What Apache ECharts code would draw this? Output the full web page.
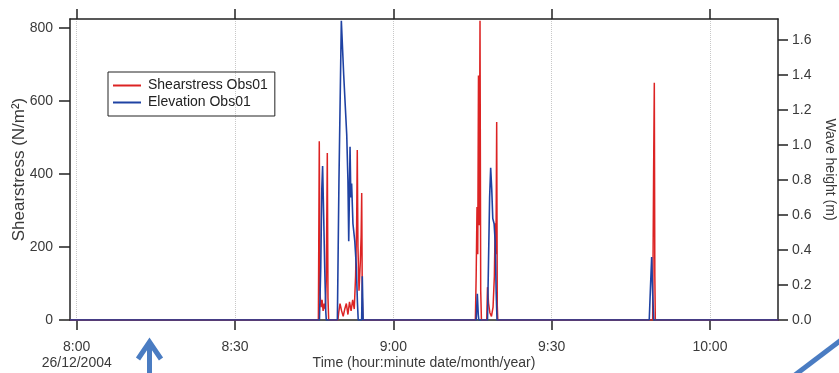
<!DOCTYPE html>
<html><head><meta charset="utf-8">
<script src="https://cdn.jsdelivr.net/npm/echarts@6/dist/echarts.min.js"></script>
<style>html,body{margin:0;padding:0;background:#fff}#c{width:839px;height:373px}</style>
</head><body><div id="c"></div>
<script>
// Time axis: minutes after 08:00 on 26/12/2004
const xTicks = [0, 30, 60, 90, 120];
const xTickLabels = ['8:00\n26/12/2004', '8:30', '9:00', '9:30', '10:00'];
const leftTicks = [0, 200, 400, 600, 800];
const rightTicks = [0, 0.2, 0.4, 0.6, 0.8, 1.0, 1.2, 1.4, 1.6];

// Shearstress Obs01 (N/m²)
const shearTime = [-1.3, 45.8, 45.97, 46.12, 46.3, 46.5, 46.7, 46.9, 47.1, 47.3, 47.49, 47.62, 47.75,
  49.5, 49.65, 49.9, 50.2, 50.5, 50.8, 51.1, 51.4, 51.7, 52.0, 52.3, 52.6, 52.85, 53.05, 53.17, 53.3, 53.5, 53.75, 53.9, 54.01, 54.12, 54.25,
  75.55, 75.7, 75.86, 76.0, 76.14, 76.28, 76.43, 76.56, 76.7,
  77.7, 77.85, 78.05, 78.3, 78.6, 78.9, 79.15, 79.3, 79.45, 79.59, 79.7, 79.8,
  109.15, 109.32, 109.46, 109.56, 109.65, 133];
const shearValue = [0, 0, 490, 70, 35, 55, 25, 45, 30, 110, 458, 60, 0,
  0, 20, 45, 25, 10, 30, 45, 15, 50, 25, 55, 30, 120, 260, 466, 200, 80, 160, 230, 348, 60, 0,
  0, 120, 310, 180, 670, 260, 820, 80, 0,
  0, 90, 45, 20, 10, 35, 120, 265, 180, 543, 40, 0,
  0, 390, 650, 120, 0, 0];

// Elevation Obs01 (wave height, m)
const elevTime = [-1.3, 46.0, 46.25, 46.45, 46.6, 46.8, 47.0, 47.2, 47.3,
  49.4, 49.7, 50.15, 50.6, 51.17, 51.4, 51.55, 51.65, 51.8, 51.95, 52.1, 52.35, 52.7, 53.0, 53.2, 53.35, 54.0, 54.12, 54.28,
  75.7, 75.92, 76.1, 76.2,
  77.85, 78.05, 78.25, 78.45, 78.65, 78.85, 79.1, 79.3, 79.5, 79.65,
  108.5, 108.75, 108.96, 109.15, 109.35, 133];
const elevValue = [0, 0, 0.3, 0.75, 0.88, 0.6, 0.3, 0.05, 0,
  0, 0.8, 1.71, 1.4, 1.06, 0.8, 0.45, 0.65, 0.99, 0.7, 0.78, 0.55, 0.45, 0.3, 0.1, 0, 0, 0.25, 0,
  0, 0.15, 0.03, 0,
  0, 0.35, 0.7, 0.87, 0.75, 0.58, 0.55, 0.45, 0.15, 0,
  0, 0.2, 0.36, 0.15, 0, 0];

const shearData = shearTime.map((t, i) => [t, shearValue[i]]);
const elevData = elevTime.map((t, i) => [t, elevValue[i]]);

const AX = '#222';
const TXT = '#3a3a3a';
const FONT = '"Liberation Sans", Arial, sans-serif';
const ARROW = '#4a7cc2';

const chart = echarts.init(document.getElementById('c'), null, {renderer: 'canvas'});
chart.setOption({
  animation: false,
  backgroundColor: '#fff',
  textStyle: {fontFamily: FONT},
  grid: {left: 70, right: 61, top: 19, bottom: 53, containLabel: false, outerBoundsMode: 'none'},
  legend: {
    left: 108, top: 72, orient: 'vertical',
    icon: 'rect', itemWidth: 28, itemHeight: 2, itemGap: 0,
    padding: [5, 7, 5, 5],
    borderColor: '#222', borderWidth: 1,
    textStyle: {fontSize: 14, color: '#222', fontFamily: FONT, lineHeight: 17, padding: [0, 0, 0, 2]},
    data: ['Shearstress Obs01', 'Elevation Obs01']
  },
  xAxis: [{
    type: 'value', position: 'bottom', min: -1.27, max: 132.9,
    name: 'Time (hour:minute date/month/year)', nameLocation: 'middle', nameGap: 36, nameMoveOverlap: false,
    nameTextStyle: {fontSize: 14, color: TXT, fontFamily: FONT},
    axisLine: {onZero: false, lineStyle: {color: AX, width: 1.5}},
    axisTick: {show: true, customValues: xTicks, length: 10, lineStyle: {color: AX, width: 1.5}},
    axisLabel: {customValues: xTicks, margin: 19, fontSize: 14, color: TXT, lineHeight: 16, fontFamily: FONT,
      formatter: v => { const i = xTicks.indexOf(v); return i >= 0 ? xTickLabels[i] : ''; }},
    splitLine: {show: true, lineStyle: {color: '#c8c8c8', type: 'dotted', width: 1}}
  }, {
    type: 'value', position: 'top', min: -1.27, max: 132.9,
    axisLine: {show: true, onZero: false, lineStyle: {color: AX, width: 1.5}},
    axisTick: {show: true, customValues: xTicks, length: 10, lineStyle: {color: AX, width: 1.5}},
    axisLabel: {show: false},
    splitLine: {show: false}
  }],
  yAxis: [{
    type: 'value', position: 'left', min: 0, max: 825,
    name: 'Shearstress (N/m²)', nameLocation: 'middle', nameGap: 42, nameMoveOverlap: false,
    nameTextStyle: {fontSize: 17, color: TXT, fontFamily: FONT},
    axisLine: {show: true, onZero: false, lineStyle: {color: AX, width: 1.5}},
    axisTick: {show: true, customValues: leftTicks, length: 11, lineStyle: {color: AX, width: 1.5}},
    axisLabel: {customValues: leftTicks, margin: 17, fontSize: 14, color: TXT, fontFamily: FONT},
    splitLine: {show: false}
  }, {
    type: 'value', position: 'right', min: 0, max: 1.72,
    name: 'Wave height (m)', nameLocation: 'middle', nameGap: 45, nameRotate: -90, nameMoveOverlap: false,
    nameTextStyle: {fontSize: 14, color: TXT, fontFamily: FONT},
    axisLine: {show: true, onZero: false, lineStyle: {color: AX, width: 1.5}},
    axisTick: {show: true, customValues: rightTicks, length: 10, lineStyle: {color: AX, width: 1.5}},
    axisLabel: {customValues: rightTicks, margin: 14, fontSize: 14, color: TXT, fontFamily: FONT,
      formatter: v => v.toFixed(1)},
    splitLine: {show: false}
  }],
  series: [{
    name: 'Shearstress Obs01', type: 'line', xAxisIndex: 0, yAxisIndex: 0,
    data: shearData, showSymbol: false, symbol: 'none',
    color: '#dc2323', lineStyle: {width: 1.5, color: '#dc2323'}, z: 2
  }, {
    name: 'Elevation Obs01', type: 'line', xAxisIndex: 0, yAxisIndex: 1,
    data: elevData, showSymbol: false, symbol: 'none',
    color: '#1f42a3', lineStyle: {width: 1.6, color: '#1f42a3'}, z: 3
  }],
  graphic: [
    {type: 'polyline', shape: {points: [[149.5, 373], [149.5, 343]]}, style: {stroke: ARROW, lineWidth: 5, fill: null}, z: 100},
    {type: 'polyline', shape: {points: [[138, 359], [149.5, 342], [161, 359]]}, style: {stroke: ARROW, lineWidth: 5, fill: null, lineJoin: 'miter'}, z: 100},
    {type: 'line', shape: {x1: 795, y1: 375, x2: 841, y2: 340}, style: {stroke: ARROW, lineWidth: 5}, z: 100}
  ]
});
</script>
</body></html>
